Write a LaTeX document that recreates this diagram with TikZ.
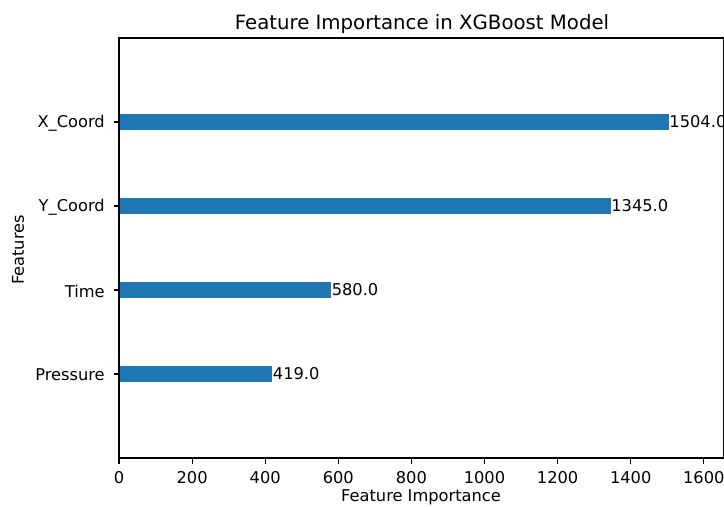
\documentclass[tikz,border=0pt]{standalone}
\usepackage{fontspec}
\setmainfont{DejaVu Sans}
\definecolor{barblue}{HTML}{1F77B4}
\begin{document}
\begin{tikzpicture}[x=0.72pt, y=-0.72pt,
    bar/.style={fill=barblue, draw=none},
    tickmark/.style={line width=0.8pt},
    ticklabel/.style={font=\fontsize{11.7}{13}\selectfont, inner sep=0pt},
    vallabel/.style={font=\fontsize{11.7}{13}\selectfont, anchor=west, inner sep=0pt},
    axislabel/.style={font=\fontsize{11.7}{13}\selectfont, inner sep=0pt}]
  \useasboundingbox (0,0) rectangle (724,506);

  % Bars (0.3655 px per unit of importance)
  \fill[bar] (119,113.6) rectangle ({119+1504*0.3655},130.4);
  \fill[bar] (119,197.6) rectangle ({119+1345*0.3655},214.4);
  \fill[bar] (119,281.6) rectangle ({119+580*0.3655},298.4);
  \fill[bar] (119,365.6) rectangle ({119+419*0.3655},382.4);

  % Value labels
  \node[vallabel] at ({119.5+1504*0.3655},122) (vx) {1504.0};
  \node[vallabel] at ({119.5+1345*0.3655},206) (vy) {1345.0};
  \node[vallabel] at ({119.5+580*0.3655},290) (vt) {580.0};
  \node[vallabel] at ({119.5+419*0.3655},374) (vp) {419.0};

  % Frame
  \draw[line width=0.8pt] (119,38) rectangle (723.2,458);

  % Feature ticks
  \draw[tickmark] (114,122) -- (119,122);
  \draw[tickmark] (114,206) -- (119,206);
  \draw[tickmark] (114,290) -- (119,290);
  \draw[tickmark] (114,374) -- (119,374);
  \node[ticklabel, anchor=east] at (105,123) (fx) {X\_Coord};
  \node[ticklabel, anchor=east] at (105,207) (fy) {Y\_Coord};
  \node[ticklabel, anchor=east] at (105,291) (ft) {Time};
  \node[ticklabel, anchor=east] at (105,375) (fp) {Pressure};

  % Importance ticks
  \foreach \v in {0,200,...,1600} {
    \draw[tickmark] ({119+\v*0.3655},458) -- ({119+\v*0.3655},463.5);
    \node[ticklabel, anchor=north] at ({119+\v*0.3655},471) (t\v) {\v};
  }

  % Axis labels and title
  \node[axislabel] at (421,497.5) (xlab) {Feature Importance};
  \node[axislabel, rotate=90] at (18,250) (ylab) {Features};
  \node[font=\fontsize{14.2}{16}\selectfont, inner sep=0pt, anchor=base] at (422,29) (title) {Feature Importance in XGBoost Model};
\end{tikzpicture}
\end{document}
